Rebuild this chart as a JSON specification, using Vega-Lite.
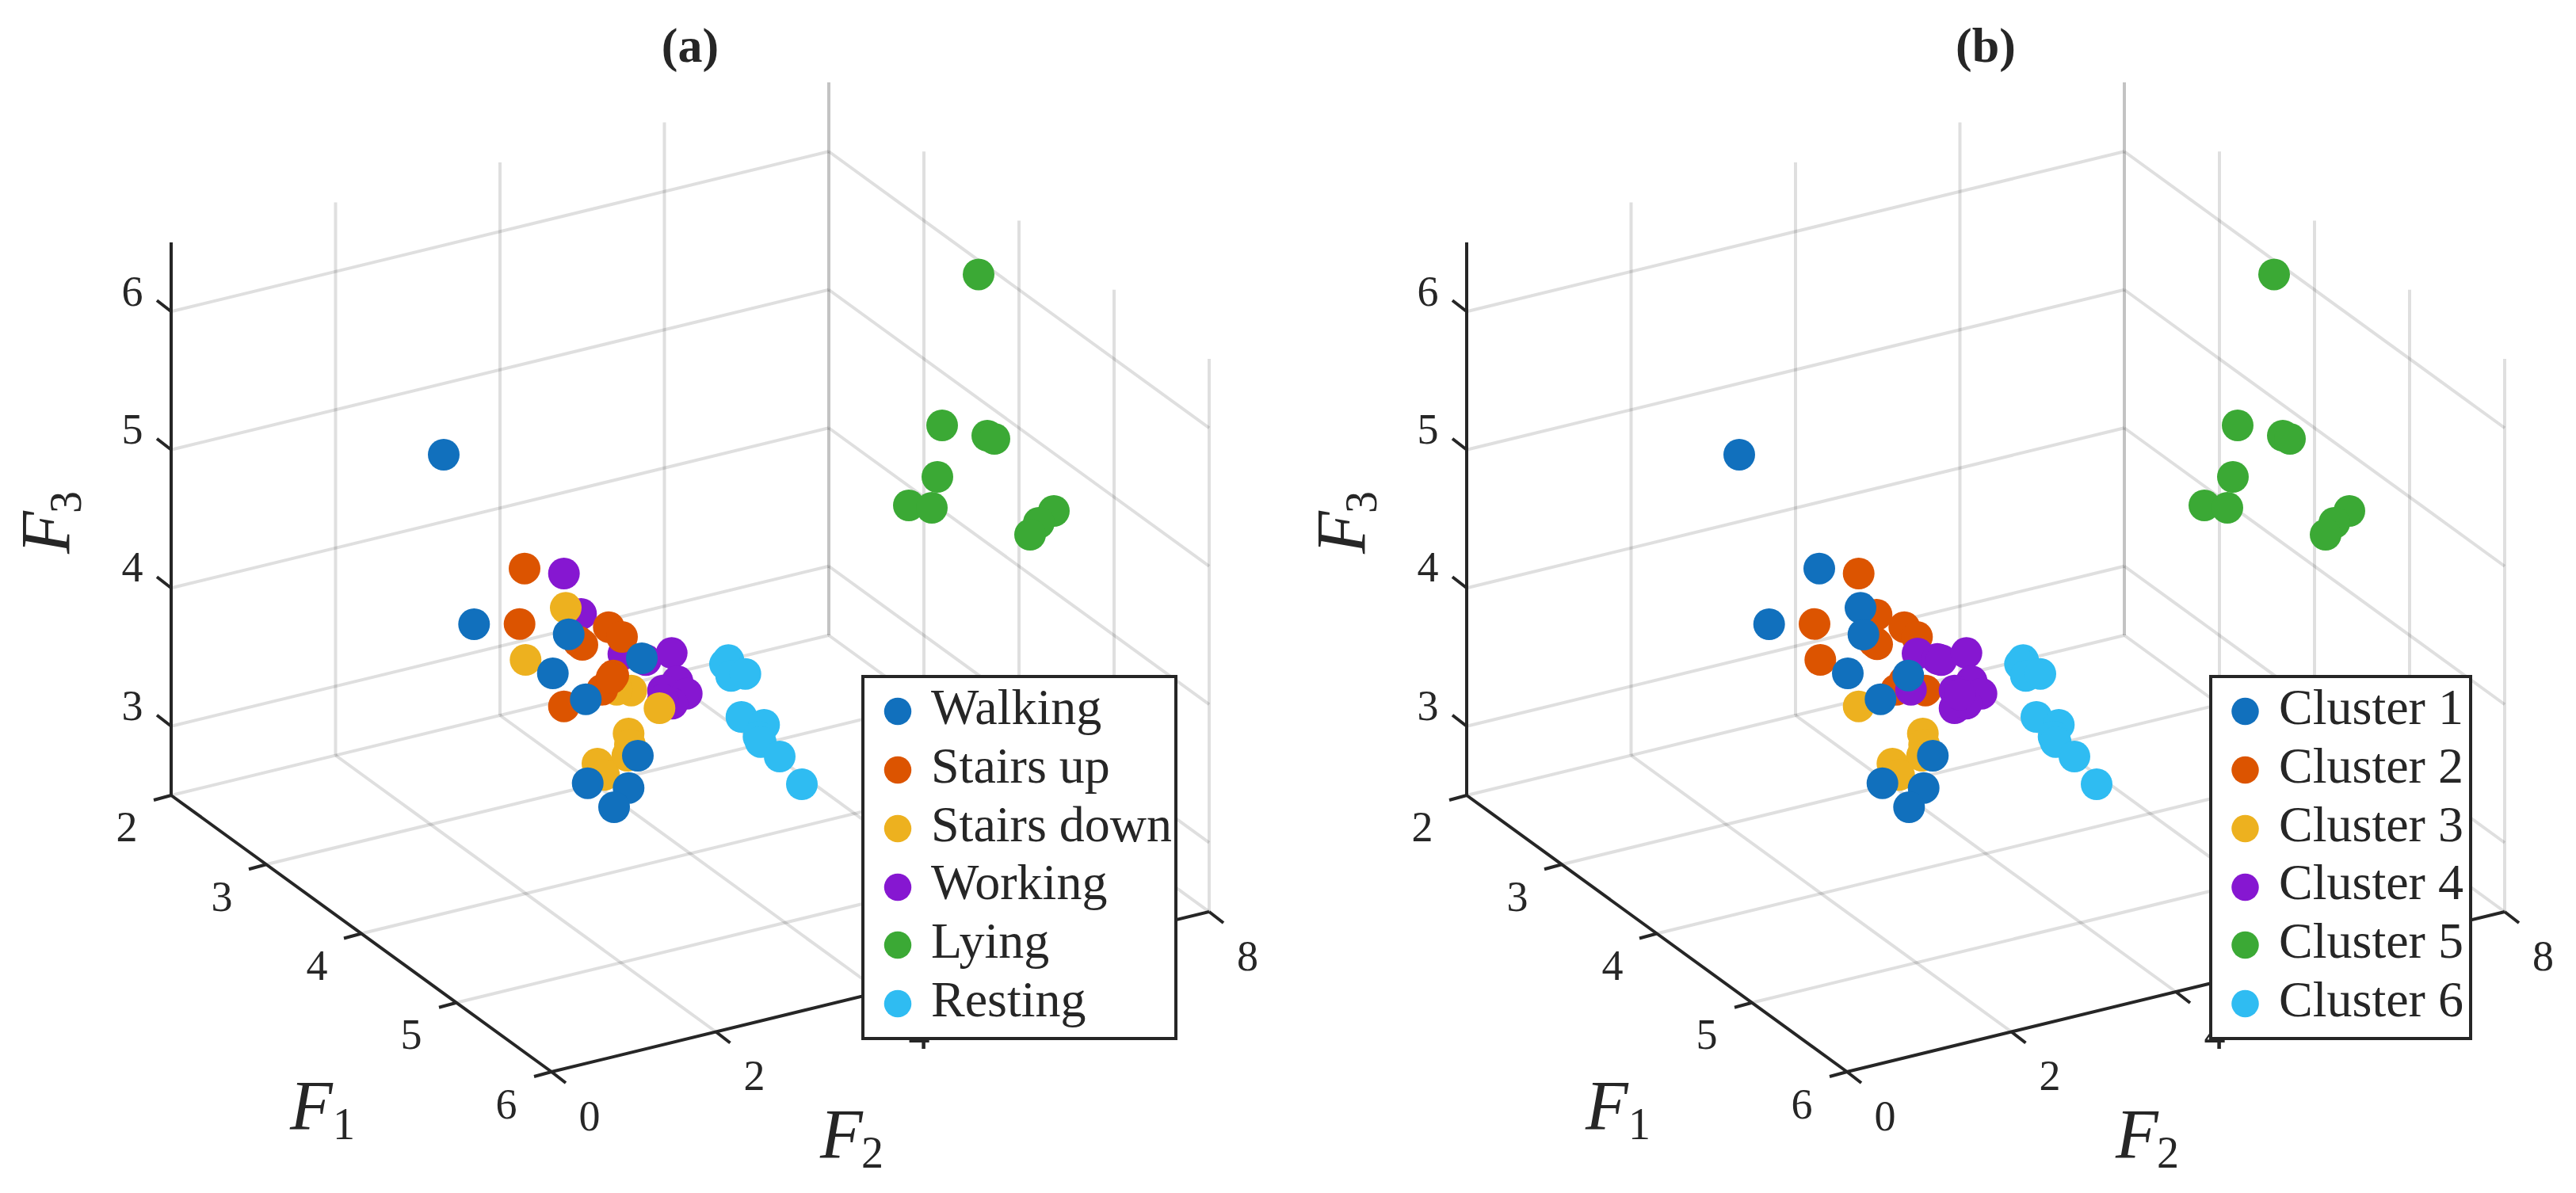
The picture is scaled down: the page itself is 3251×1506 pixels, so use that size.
{
"$schema":"https://vega.github.io/schema/vega-lite/v6.json",
"padding":0,
"background":"white",
"config":{"view":{"stroke":null}},
"spacing":35,
"datasets":{
"grid":[
{"a":423.5,"b":953.5,"c":423.5,"d":255.5},{"a":631,"b":903,"c":631,"d":205},{"a":838.5,"b":852.5,"c":838.5,"d":154.5},{"a":1046,"b":802,"c":1046,"d":104},
{"a":216,"b":916.75,"c":1046,"d":714.75},{"a":216,"b":742.25,"c":1046,"d":540.25},{"a":216,"b":567.75,"c":1046,"d":365.75},{"a":216,"b":393.25,"c":1046,"d":191.25},
{"a":1046,"b":714.75,"c":1526,"d":1063.75},{"a":1046,"b":540.25,"c":1526,"d":889.25},{"a":1046,"b":365.75,"c":1526,"d":714.75},{"a":1046,"b":191.25,"c":1526,"d":540.25},
{"a":1046,"b":802,"c":1046,"d":104},{"a":1166,"b":889.25,"c":1166,"d":191.25},{"a":1286,"b":976.5,"c":1286,"d":278.5},{"a":1406,"b":1063.75,"c":1406,"d":365.75},{"a":1526,"b":1151,"c":1526,"d":453},
{"a":423.5,"b":953.5,"c":903.5,"d":1302.5},{"a":631,"b":903,"c":1111,"d":1252},{"a":838.5,"b":852.5,"c":1318.5,"d":1201.5},{"a":1046,"b":802,"c":1526,"d":1151},
{"a":216,"b":1004,"c":1046,"d":802},{"a":336,"b":1091.25,"c":1166,"d":889.25},{"a":456,"b":1178.5,"c":1286,"d":976.5},{"a":576,"b":1265.75,"c":1406,"d":1063.75}
],
"axes":[
{"a":216,"b":306,"c":216,"d":1004},{"a":216,"b":1004,"c":696,"d":1353},{"a":696,"b":1353,"c":1526,"d":1151},
{"a":216,"b":916.75,"c":198,"d":902.75},{"a":216,"b":742.25,"c":198,"d":728.25},{"a":216,"b":567.75,"c":198,"d":553.75},{"a":216,"b":393.25,"c":198,"d":379.25},
{"a":216,"b":1004,"c":194,"d":1010},{"a":336,"b":1091.25,"c":314,"d":1097.25},{"a":456,"b":1178.5,"c":434,"d":1184.5},{"a":576,"b":1265.75,"c":554,"d":1271.75},{"a":696,"b":1353,"c":674,"d":1359},
{"a":696,"b":1353,"c":714,"d":1367},{"a":903.5,"b":1302.5,"c":921.5,"d":1316.5},{"a":1111,"b":1252,"c":1129,"d":1266},{"a":1318.5,"b":1201.5,"c":1336.5,"d":1215.5},{"a":1526,"b":1151,"c":1544,"d":1165}
],
"ticks":[
{"h":167,"v":909,"t":"3"},{"h":167,"v":734,"t":"4"},{"h":167,"v":560,"t":"5"},{"h":167,"v":386,"t":"6"},
{"h":160,"v":1062,"t":"2"},{"h":280,"v":1150,"t":"3"},{"h":400,"v":1236.5,"t":"4"},{"h":519,"v":1324,"t":"5"},{"h":639,"v":1412,"t":"6"},
{"h":744,"v":1427,"t":"0"},{"h":952,"v":1376,"t":"2"},{"h":1160,"v":1324,"t":"4"},{"h":1368,"v":1274,"t":"6"},{"h":1574.5,"v":1225,"t":"8"}
],
"axisF":[{"h":366,"v":1425,"t":"F"},{"h":1035,"v":1461,"t":"F"}],
"axisSub":[{"h":420,"v":1438,"t":"1"},{"h":1087,"v":1474,"t":"2"}],
"pointsA":[
{"h":711.7,"v":724,"g":"Working"},{"h":733.3,"v":775,"g":"Working"},{"h":786.7,"v":825.7,"g":"Working"},{"h":815,"v":833.3,"g":"Working"},{"h":847.7,"v":824.3,"g":"Working"},{"h":855,"v":860,"g":"Working"},{"h":836.7,"v":871.7,"g":"Working"},{"h":866.7,"v":875.7,"g":"Working"},{"h":848.3,"v":888.3,"g":"Working"},{"h":836.7,"v":883.3,"g":"Working"},
{"h":714,"v":767.3,"g":"Stairs down"},{"h":663.3,"v":833,"g":"Stairs down"},{"h":796.7,"v":871.7,"g":"Stairs down"},{"h":778.3,"v":870.7,"g":"Stairs down"},{"h":832.3,"v":894,"g":"Stairs down"},{"h":793.3,"v":926,"g":"Stairs down"},{"h":795,"v":940,"g":"Stairs down"},{"h":791.7,"v":954,"g":"Stairs down"},{"h":754,"v":964,"g":"Stairs down"},{"h":762.3,"v":978.3,"g":"Stairs down"},
{"h":662,"v":717.7,"g":"Stairs up"},{"h":655.7,"v":787.7,"g":"Stairs up"},{"h":730,"v":810,"g":"Stairs up"},{"h":735,"v":814,"g":"Stairs up"},{"h":768.3,"v":791.7,"g":"Stairs up"},{"h":785,"v":804,"g":"Stairs up"},{"h":711.7,"v":891.7,"g":"Stairs up"},{"h":760,"v":870.7,"g":"Stairs up"},{"h":774,"v":852.7,"g":"Stairs up"},{"h":771.7,"v":856,"g":"Stairs up"},
{"h":598.3,"v":788,"g":"Walking"},{"h":717.7,"v":800.7,"g":"Walking"},{"h":697.7,"v":850,"g":"Walking"},{"h":739.3,"v":882.7,"g":"Walking"},{"h":810,"v":831,"g":"Walking"},{"h":805,"v":954,"g":"Walking"},{"h":741.7,"v":988.7,"g":"Walking"},{"h":793.3,"v":994.7,"g":"Walking"},{"h":775,"v":1019,"g":"Walking"},{"h":560,"v":574,"g":"Walking"},
{"h":1235,"v":346.4,"g":"Lying"},{"h":1189,"v":537,"g":"Lying"},{"h":1246,"v":550,"g":"Lying"},{"h":1255,"v":554,"g":"Lying"},{"h":1183,"v":602,"g":"Lying"},{"h":1147,"v":638,"g":"Lying"},{"h":1176,"v":641,"g":"Lying"},{"h":1330,"v":645,"g":"Lying"},{"h":1311,"v":660,"g":"Lying"},{"h":1300,"v":675,"g":"Lying"},
{"h":919.3,"v":833.3,"g":"Resting"},{"h":915,"v":838.3,"g":"Resting"},{"h":922.7,"v":853.3,"g":"Resting"},{"h":940.7,"v":850.7,"g":"Resting"},{"h":935.7,"v":905,"g":"Resting"},{"h":964.3,"v":915,"g":"Resting"},{"h":957.3,"v":930,"g":"Resting"},{"h":960,"v":936.7,"g":"Resting"},{"h":984,"v":955,"g":"Resting"},{"h":1012,"v":990,"g":"Resting"}
],
"pointsB":[
{"h":710.7,"v":891.7,"g":"Cluster 3"},{"h":791.7,"v":926,"g":"Cluster 3"},{"h":793.3,"v":940,"g":"Cluster 3"},{"h":790.7,"v":954,"g":"Cluster 3"},{"h":753.3,"v":964,"g":"Cluster 3"},{"h":761.7,"v":978.3,"g":"Cluster 3"},
{"h":710.7,"v":724,"g":"Cluster 2"},{"h":655,"v":787.7,"g":"Cluster 2"},{"h":662.3,"v":833,"g":"Cluster 2"},{"h":733.3,"v":776,"g":"Cluster 2"},{"h":730,"v":810,"g":"Cluster 2"},{"h":734,"v":813.3,"g":"Cluster 2"},{"h":768.3,"v":791.7,"g":"Cluster 2"},{"h":784.3,"v":804,"g":"Cluster 2"},{"h":768.3,"v":860,"g":"Cluster 2"},{"h":758.3,"v":870.7,"g":"Cluster 2"},{"h":795,"v":871.7,"g":"Cluster 2"},
{"h":785,"v":825,"g":"Cluster 4"},{"h":810,"v":831.7,"g":"Cluster 4"},{"h":815,"v":833.3,"g":"Cluster 4"},{"h":846.7,"v":824.3,"g":"Cluster 4"},{"h":853.3,"v":860,"g":"Cluster 4"},{"h":865.7,"v":875.7,"g":"Cluster 4"},{"h":831.7,"v":871.7,"g":"Cluster 4"},{"h":831.7,"v":894,"g":"Cluster 4"},{"h":846.7,"v":888.3,"g":"Cluster 4"},{"h":776.7,"v":870.7,"g":"Cluster 4"},{"h":838.3,"v":876.7,"g":"Cluster 4"},
{"h":661,"v":717.7,"g":"Cluster 1"},{"h":597.7,"v":788,"g":"Cluster 1"},{"h":713,"v":767.3,"g":"Cluster 1"},{"h":716.7,"v":801,"g":"Cluster 1"},{"h":697,"v":850,"g":"Cluster 1"},{"h":738.3,"v":882.7,"g":"Cluster 1"},{"h":773.3,"v":852.7,"g":"Cluster 1"},{"h":804.3,"v":954,"g":"Cluster 1"},{"h":740.7,"v":988.7,"g":"Cluster 1"},{"h":792.7,"v":994.7,"g":"Cluster 1"},{"h":774.3,"v":1019,"g":"Cluster 1"},{"h":560,"v":574,"g":"Cluster 1"},
{"h":1235,"v":346.4,"g":"Cluster 5"},{"h":1189,"v":537,"g":"Cluster 5"},{"h":1246,"v":550,"g":"Cluster 5"},{"h":1255,"v":554,"g":"Cluster 5"},{"h":1183,"v":602,"g":"Cluster 5"},{"h":1147,"v":638,"g":"Cluster 5"},{"h":1176,"v":641,"g":"Cluster 5"},{"h":1330,"v":645,"g":"Cluster 5"},{"h":1311,"v":660,"g":"Cluster 5"},{"h":1300,"v":675,"g":"Cluster 5"},
{"h":918.3,"v":833.3,"g":"Cluster 6"},{"h":914.3,"v":838.3,"g":"Cluster 6"},{"h":921.7,"v":853.3,"g":"Cluster 6"},{"h":940,"v":850.7,"g":"Cluster 6"},{"h":935,"v":905,"g":"Cluster 6"},{"h":963.3,"v":915,"g":"Cluster 6"},{"h":956.7,"v":930,"g":"Cluster 6"},{"h":959.3,"v":936.7,"g":"Cluster 6"},{"h":983,"v":955,"g":"Cluster 6"},{"h":1011,"v":990,"g":"Cluster 6"}
],
"legendA":[
{"h":1133,"v":898,"tx":1175,"ty":914,"g":"Walking"},{"h":1133,"v":972,"tx":1175,"ty":988,"g":"Stairs up"},{"h":1133,"v":1046,"tx":1175,"ty":1062,"g":"Stairs down"},{"h":1133,"v":1120,"tx":1175,"ty":1135,"g":"Working"},{"h":1133,"v":1193,"tx":1175,"ty":1209,"g":"Lying"},{"h":1133,"v":1267,"tx":1175,"ty":1283,"g":"Resting"}
],
"legendB":[
{"h":1198.5,"v":898,"tx":1241,"ty":914,"g":"Cluster 1"},{"h":1198.5,"v":972,"tx":1241,"ty":988,"g":"Cluster 2"},{"h":1198.5,"v":1046,"tx":1241,"ty":1062,"g":"Cluster 3"},{"h":1198.5,"v":1120,"tx":1241,"ty":1135,"g":"Cluster 4"},{"h":1198.5,"v":1193,"tx":1241,"ty":1209,"g":"Cluster 5"},{"h":1198.5,"v":1267,"tx":1241,"ty":1283,"g":"Cluster 6"}
]
},
"hconcat":[
{"width":1600,"height":1506,
"encoding":{"x":{"field":"h","type":"quantitative","scale":{"domain":[0,1600],"nice":false,"zero":false},"axis":null},"y":{"field":"v","type":"quantitative","scale":{"domain":[1506,0],"nice":false,"zero":false},"axis":null}},
"layer":[
{"data":{"name":"grid"},"mark":{"type":"rule","stroke":"#262626","strokeOpacity":0.15,"strokeWidth":4},"encoding":{"x":{"field":"a","type":"quantitative"},"y":{"field":"b","type":"quantitative"},"x2":{"field":"c"},"y2":{"field":"d"}}},
{"data":{"name":"axes"},"mark":{"type":"rule","stroke":"#262626","strokeWidth":4},"encoding":{"x":{"field":"a","type":"quantitative"},"y":{"field":"b","type":"quantitative"},"x2":{"field":"c"},"y2":{"field":"d"}}},
{"data":{"name":"ticks"},"mark":{"type":"text","font":"Liberation Serif","fontSize":54,"align":"center","baseline":"alphabetic","color":"#262626"},"encoding":{"text":{"field":"t"}}},
{"data":{"name":"axisF"},"mark":{"type":"text","font":"Liberation Serif","fontStyle":"italic","fontSize":88,"align":"left","baseline":"alphabetic","color":"#262626"},"encoding":{"text":{"field":"t"}}},
{"data":{"name":"axisSub"},"mark":{"type":"text","font":"Liberation Serif","fontSize":56,"align":"left","baseline":"alphabetic","color":"#262626"},"encoding":{"text":{"field":"t"}}},
{"data":{"values":[{"h":87,"v":699,"t":"F"}]},"mark":{"type":"text","font":"Liberation Serif","fontStyle":"italic","fontSize":88,"align":"left","baseline":"alphabetic","angle":270,"color":"#262626"},"encoding":{"text":{"field":"t"}}},
{"data":{"values":[{"h":102,"v":648,"t":"3"}]},"mark":{"type":"text","font":"Liberation Serif","fontSize":56,"align":"left","baseline":"alphabetic","angle":270,"color":"#262626"},"encoding":{"text":{"field":"t"}}},
{"data":{"values":[{"h":871,"v":78,"t":"(a)"}]},"mark":{"type":"text","font":"Liberation Serif","fontWeight":"bold","fontSize":62,"align":"center","baseline":"alphabetic","color":"#262626"},"encoding":{"text":{"field":"t"}}},
{"data":{"name":"pointsA"},"mark":{"type":"point","shape":"circle","filled":true,"opacity":1,"size":1600},"encoding":{"color":{"field":"g","type":"nominal","legend":null,"scale":{"domain":["Walking","Stairs up","Stairs down","Working","Lying","Resting"],"range":["#1170BD","#DC5400","#EDB11F","#8617D1","#3BA935","#2FBCF2"]}}}},
{"data":{"values":[{"h":1089,"v":854,"h2":1484,"v2":1311}]},"mark":{"type":"rect","fill":"white","stroke":"#262626","strokeWidth":4},"encoding":{"x2":{"field":"h2"},"y2":{"field":"v2"}}},
{"data":{"name":"legendA"},"mark":{"type":"point","shape":"circle","filled":true,"opacity":1,"size":1190},"encoding":{"color":{"field":"g","type":"nominal","legend":null,"scale":{"domain":["Walking","Stairs up","Stairs down","Working","Lying","Resting"],"range":["#1170BD","#DC5400","#EDB11F","#8617D1","#3BA935","#2FBCF2"]}}}},
{"data":{"name":"legendA"},"mark":{"type":"text","font":"Liberation Serif","fontSize":64,"align":"left","baseline":"alphabetic","color":"#262626"},"encoding":{"x":{"field":"tx","type":"quantitative"},"y":{"field":"ty","type":"quantitative"},"text":{"field":"g"}}}
]},
{"width":1600,"height":1506,
"encoding":{"x":{"field":"h","type":"quantitative","scale":{"domain":[0,1600],"nice":false,"zero":false},"axis":null},"y":{"field":"v","type":"quantitative","scale":{"domain":[1506,0],"nice":false,"zero":false},"axis":null}},
"layer":[
{"data":{"name":"grid"},"mark":{"type":"rule","stroke":"#262626","strokeOpacity":0.15,"strokeWidth":4},"encoding":{"x":{"field":"a","type":"quantitative"},"y":{"field":"b","type":"quantitative"},"x2":{"field":"c"},"y2":{"field":"d"}}},
{"data":{"name":"axes"},"mark":{"type":"rule","stroke":"#262626","strokeWidth":4},"encoding":{"x":{"field":"a","type":"quantitative"},"y":{"field":"b","type":"quantitative"},"x2":{"field":"c"},"y2":{"field":"d"}}},
{"data":{"name":"ticks"},"mark":{"type":"text","font":"Liberation Serif","fontSize":54,"align":"center","baseline":"alphabetic","color":"#262626"},"encoding":{"text":{"field":"t"}}},
{"data":{"name":"axisF"},"mark":{"type":"text","font":"Liberation Serif","fontStyle":"italic","fontSize":88,"align":"left","baseline":"alphabetic","color":"#262626"},"encoding":{"text":{"field":"t"}}},
{"data":{"name":"axisSub"},"mark":{"type":"text","font":"Liberation Serif","fontSize":56,"align":"left","baseline":"alphabetic","color":"#262626"},"encoding":{"text":{"field":"t"}}},
{"data":{"values":[{"h":87,"v":699,"t":"F"}]},"mark":{"type":"text","font":"Liberation Serif","fontStyle":"italic","fontSize":88,"align":"left","baseline":"alphabetic","angle":270,"color":"#262626"},"encoding":{"text":{"field":"t"}}},
{"data":{"values":[{"h":102,"v":648,"t":"3"}]},"mark":{"type":"text","font":"Liberation Serif","fontSize":56,"align":"left","baseline":"alphabetic","angle":270,"color":"#262626"},"encoding":{"text":{"field":"t"}}},
{"data":{"values":[{"h":871,"v":78,"t":"(b)"}]},"mark":{"type":"text","font":"Liberation Serif","fontWeight":"bold","fontSize":62,"align":"center","baseline":"alphabetic","color":"#262626"},"encoding":{"text":{"field":"t"}}},
{"data":{"name":"pointsB"},"mark":{"type":"point","shape":"circle","filled":true,"opacity":1,"size":1600},"encoding":{"color":{"field":"g","type":"nominal","legend":null,"scale":{"domain":["Cluster 1","Cluster 2","Cluster 3","Cluster 4","Cluster 5","Cluster 6"],"range":["#1170BD","#DC5400","#EDB11F","#8617D1","#3BA935","#2FBCF2"]}}}},
{"data":{"values":[{"h":1155,"v":854,"h2":1483,"v2":1311}]},"mark":{"type":"rect","fill":"white","stroke":"#262626","strokeWidth":4},"encoding":{"x2":{"field":"h2"},"y2":{"field":"v2"}}},
{"data":{"name":"legendB"},"mark":{"type":"point","shape":"circle","filled":true,"opacity":1,"size":1190},"encoding":{"color":{"field":"g","type":"nominal","legend":null,"scale":{"domain":["Cluster 1","Cluster 2","Cluster 3","Cluster 4","Cluster 5","Cluster 6"],"range":["#1170BD","#DC5400","#EDB11F","#8617D1","#3BA935","#2FBCF2"]}}}},
{"data":{"name":"legendB"},"mark":{"type":"text","font":"Liberation Serif","fontSize":64,"align":"left","baseline":"alphabetic","color":"#262626"},"encoding":{"x":{"field":"tx","type":"quantitative"},"y":{"field":"ty","type":"quantitative"},"text":{"field":"g"}}}
]}
]
}
